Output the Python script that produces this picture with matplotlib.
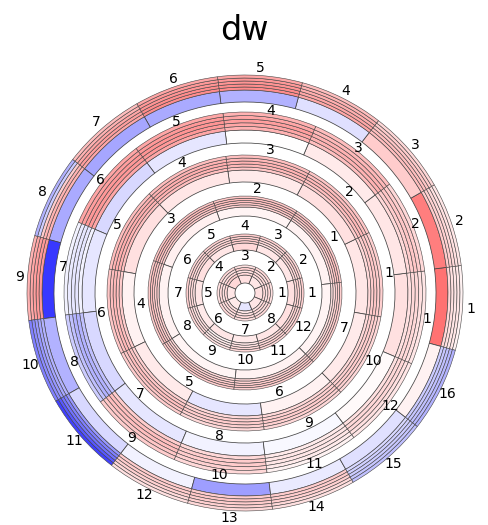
import numpy as np
import matplotlib
matplotlib.use("Agg")
import matplotlib.pyplot as plt
from matplotlib.colors import Normalize

# ---------------- data (values on a -1..1 bwr scale) ----------------
# group 1 : 8 segments
g1_thick = [0.12, 0.10, 0.12, 0.15, 0.10, 0.08, -0.10, 0.10]
g1_thin = [
    [0.15, 0.12, 0.15, 0.18, 0.15, 0.12, 0.10, 0.12],
    [0.12, 0.15, 0.12, 0.15, 0.12, 0.15, 0.12, 0.15],
    [0.15, 0.12, 0.18, 0.12, 0.15, 0.12, 0.15, 0.12],
    [0.12, 0.15, 0.12, 0.15, 0.12, 0.15, 0.12, 0.15],
]
# group 2 : 12 segments
g2_thick = [0.12, 0.10, 0.10, 0.15, 0.10, 0.12, 0.10, 0.08, 0.10, 0.08, 0.10, 0.12]
g2_thin = [
    [0.15, 0.15, 0.12, 0.18, 0.15, 0.15, 0.12, 0.12, 0.05, 0.10, 0.15, 0.15],
    [0.18, 0.15, 0.15, 0.20, 0.18, 0.15, 0.15, 0.12, 0.08, 0.12, 0.15, 0.18],
    [0.15, 0.18, 0.15, 0.18, 0.15, 0.18, 0.15, 0.15, 0.10, 0.15, 0.18, 0.15],
    [0.18, 0.15, 0.18, 0.20, 0.18, 0.15, 0.18, 0.15, 0.12, 0.15, 0.15, 0.18],
]
# group 3 : 7 segments
g3_thick = [0.05, 0.04, 0.06, 0.05, 0.04, 0.05, 0.04]
g3_thin = [
    [0.15, 0.18, 0.20, 0.18, 0.15, 0.15, 0.12],
    [0.20, 0.22, 0.22, 0.20, 0.18, 0.18, 0.15],
    [0.22, 0.25, 0.25, 0.22, 0.20, 0.20, 0.18],
    [0.25, 0.25, 0.28, 0.25, 0.22, 0.22, 0.20],
    [0.20, 0.22, 0.22, 0.20, 0.20, 0.18, 0.18],
]
# group 4 : 10 segments
g4_thick = [0.10, 0.12, 0.08, 0.10, 0.12, 0.05, 0.08, -0.10, 0.05, 0.08]
g4_thin = [
    [0.15, 0.20, 0.22, 0.25, 0.25, 0.20, 0.18, 0.15, 0.15, 0.15],
    [0.20, 0.25, 0.28, 0.30, 0.30, 0.25, 0.22, 0.18, 0.18, 0.18],
    [0.22, 0.28, 0.30, 0.32, 0.32, 0.28, 0.25, 0.20, 0.20, 0.20],
    [0.20, 0.25, 0.28, 0.30, 0.30, 0.25, 0.22, 0.18, 0.18, 0.18],
    [0.18, 0.22, 0.25, 0.25, 0.25, 0.22, 0.20, 0.15, 0.15, 0.15],
]
# group 5 : 12 segments
g5_thick = [0.12, 0.10, 0.08, 0.00, -0.10, -0.15, -0.10, -0.15, -0.10, -0.05, -0.03, 0.02]
g5_thin = [
    [0.12, 0.15, 0.25, 0.30, 0.35, 0.35, -0.05, -0.25, 0.20, 0.15, 0.08, 0.12],
    [0.15, 0.20, 0.30, 0.35, 0.40, 0.40, -0.10, -0.30, 0.25, 0.20, 0.10, 0.15],
    [0.15, 0.22, 0.30, 0.38, 0.42, 0.40, -0.10, -0.30, 0.25, 0.20, 0.10, 0.15],
    [0.12, 0.20, 0.28, 0.35, 0.40, 0.38, -0.08, -0.25, 0.22, 0.18, 0.08, 0.12],
    [0.10, 0.15, 0.25, 0.30, 0.35, 0.35, -0.05, -0.20, 0.20, 0.15, 0.05, 0.10],
]
# group 6 : 16 segments
g6_thick = [0.55, 0.50, 0.20, -0.12, -0.30, -0.33, -0.35, -0.33, -0.78, -0.30,
            -0.15, -0.05, -0.38, -0.08, -0.12, 0.05]
g6_thin = [
    [0.15, 0.20, 0.25, 0.35, 0.45, 0.45, 0.35, 0.30, 0.40, -0.30, -0.40, 0.20, 0.20, 0.20, -0.15, -0.20],
    [0.12, 0.18, 0.25, 0.35, 0.45, 0.45, 0.38, 0.30, 0.40, -0.35, -0.50, 0.20, 0.22, 0.20, -0.18, -0.22],
    [0.10, 0.15, 0.22, 0.32, 0.42, 0.42, 0.35, 0.20, 0.38, -0.40, -0.55, 0.18, 0.20, 0.18, -0.20, -0.25],
    [0.10, 0.12, 0.20, 0.30, 0.40, 0.40, 0.30, -0.20, 0.35, -0.45, -0.65, 0.15, 0.18, 0.15, -0.22, -0.28],
    [0.05, 0.10, 0.15, 0.25, 0.35, 0.35, 0.25, -0.30, 0.30, -0.50, -0.75, 0.12, 0.15, 0.12, -0.25, -0.30],
]

groups = [
    (g1_thick, g1_thin),
    (g2_thick, g2_thin),
    (g3_thick, g3_thin),
    (g4_thick, g4_thin),
    (g5_thick, g5_thin),
    (g6_thick, g6_thin),
]

# ---------------- layout ----------------
# (inner radius, thick/thin boundary, outer radius, label radius, rotation of segment 1 in deg)
layout = [
    (10, 18, 28, 37, 0),
    (43, 50, 59, 67, 0),
    (77, 86, 97, 105, 32),
    (111, 123, 138, 145, 8),
    (150, 163, 181, 184, -8),
    (191, 203, 218, 226, -4),
]

W, H, DPI = 489, 525, 100
fig = plt.figure(figsize=(W / DPI, H / DPI), dpi=DPI)
cx, cy, R = 245, 293, 240
ax = fig.add_axes([(cx - R) / W, (H - cy - R) / H, 2 * R / W, 2 * R / H], projection="polar")
ax.set_ylim(0, R)
ax.axis("off")

cmap = plt.get_cmap("bwr")
norm = Normalize(-1, 1)
edge = "#444444"

for (thick, thin), (r0, r1, r2, rl, rot) in zip(groups, layout):
    n = len(thick)
    width = 2 * np.pi / n
    theta = np.deg2rad(rot) + np.arange(n) * width
    ax.bar(theta, r1 - r0, width=width, bottom=r0, color=cmap(norm(np.array(thick))),
           edgecolor=edge, linewidth=0.55, align="center")
    nt = len(thin)
    dr = (r2 - r1) / nt
    for j, row in enumerate(thin):
        ax.bar(theta, dr, width=width, bottom=r1 + j * dr, color=cmap(norm(np.array(row))),
               edgecolor=edge, linewidth=0.4, align="center")
    for k in range(n):
        ax.text(theta[k], rl, str(k + 1), ha="center", va="center", fontsize=10)

fig.text(0.5, (H - 30) / H, "dw", ha="center", va="center", fontsize=24)

fig.savefig("out.png", dpi=DPI)
